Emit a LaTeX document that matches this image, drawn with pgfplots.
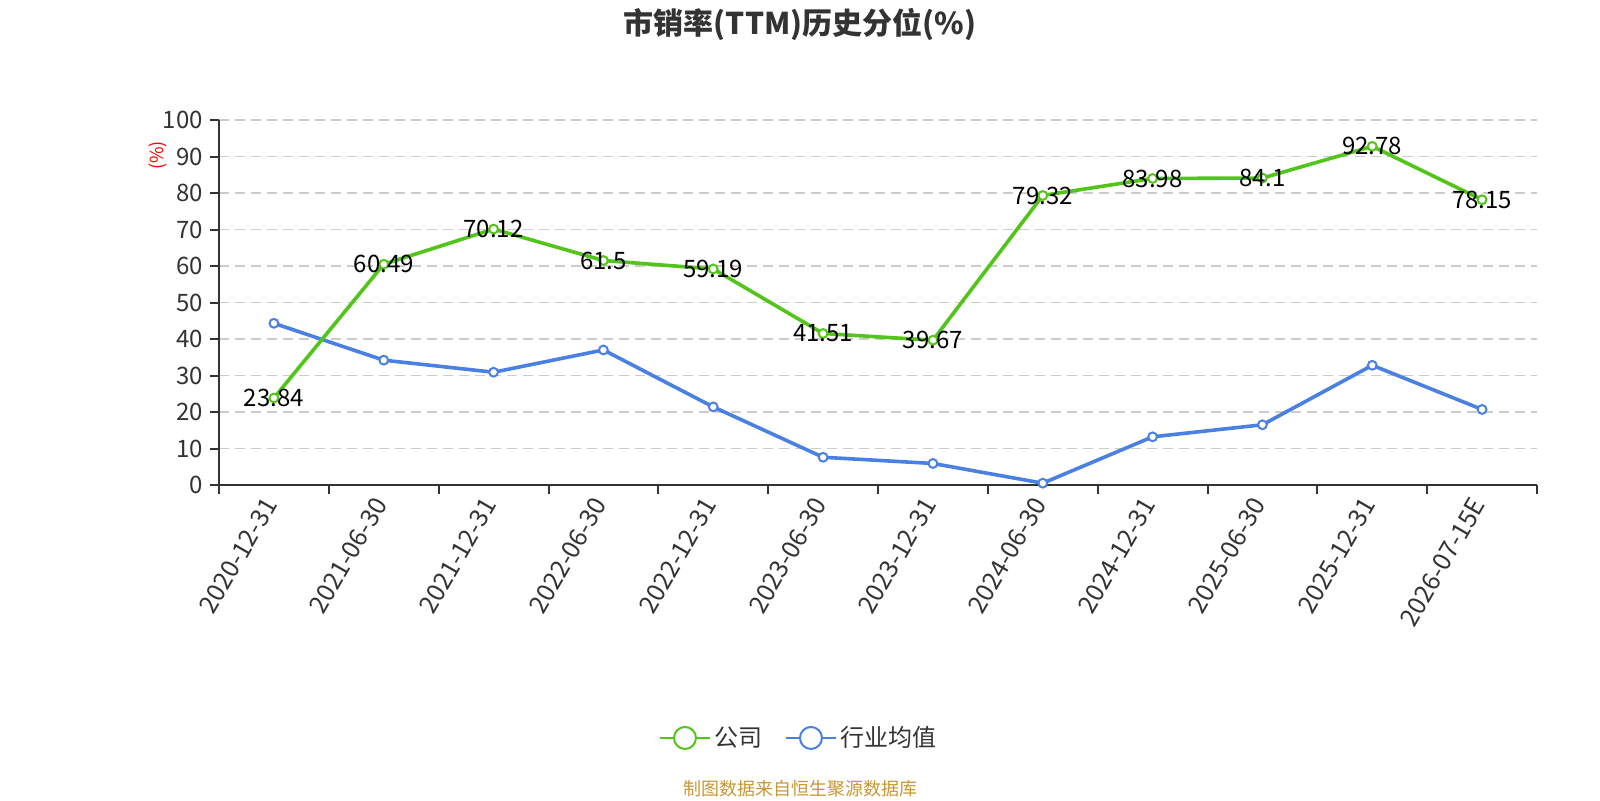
\documentclass[border=0pt]{standalone}
\usepackage{pgfplots}
\pgfplotsset{compat=1.18}
\usepackage{fontspec}
\setmainfont{Noto Sans CJK SC}
\definecolor{cgreen}{RGB}{82,196,26}
\definecolor{cblue}{RGB}{74,128,226}
\definecolor{ctext}{RGB}{51,51,51}
\definecolor{cgrid}{RGB}{204,204,204}
\definecolor{csrc}{RGB}{200,150,50}
\begin{document}
\begin{tikzpicture}
\node[font=\bfseries\fontsize{15}{18}\selectfont, text=ctext] at (400pt,388pt) {市销率(TTM)历史分位(\%)};
\node[font=\fontsize{9}{10}\selectfont, text=red, rotate=90] at (78.75pt,322.25pt) {(\%)};
\node[font=\fontsize{9}{10}\selectfont, text=csrc] at (400pt,5.5pt) {制图数据来自恒生聚源数据库};
\begin{axis}[
  at={(109.5pt,157.5pt)}, anchor=south west,
  scale only axis, width=659pt, height=182.5pt,
  xmin=-0.5, xmax=11.5, ymin=0, ymax=100,
  axis lines*=left,
  axis line style={color=ctext, line width=1pt},
  tick style={color=ctext, line width=1pt},
  tick align=outside, major tick length=4.5pt,
  xtick={-0.5,0.5,...,11.5},
  x tick label as interval,
  xticklabels={2020-12-31,2021-06-30,2021-12-31,2022-06-30,2022-12-31,2023-06-30,2023-12-31,2024-06-30,2024-12-31,2025-06-30,2025-12-31,2026-07-15E},
  xticklabel style={rotate=60, anchor=east, font=\fontsize{12.5}{14}\selectfont, text=ctext},
  ytick={0,10,...,100},
  yticklabel style={font=\fontsize{12}{14}\selectfont, text=ctext},
  /pgf/number format/assume math mode=true,
  ymajorgrids,
  major grid style={color=cgrid, line width=0.6pt, dash pattern=on 5pt off 3pt},
  legend style={at={(0.4408,-0.693)}, anchor=center, draw=none, fill=none,
    legend columns=2, font=\fontsize{12}{14}\selectfont, text=ctext,
    /tikz/every even column/.append style={column sep=9pt}},
  legend image code/.code={
    \draw[#1, mark=none, line width=1pt] (0pt,0pt) -- (25pt,0pt);
    \draw[#1, mark=none, line width=1pt, fill=white] (12.5pt,0pt) circle (5.5pt);
  },
]
\addplot[color=cblue, line width=1.8pt, mark=*, mark size=2.2pt,
  mark options={fill=white, draw=cblue, line width=1pt}, forget plot]
coordinates {(0,44.3) (1,34.2) (2,30.9) (3,37.0) (4,21.4) (5,7.6) (6,5.9) (7,0.5) (8,13.2) (9,16.5) (10,32.8) (11,20.7)};
\addplot[color=cgreen, line width=1.8pt, mark=*, mark size=2.2pt,
  mark options={fill=white, draw=cgreen, line width=1pt},
  point meta=explicit symbolic, nodes near coords,
  every node near coord/.append style={anchor=center, font=\fontsize{12}{14}\selectfont, text=black}]
coordinates {(0,23.84) [23.84] (1,60.49) [60.49] (2,70.12) [70.12] (3,61.5) [61.5] (4,59.19) [59.19] (5,41.51) [41.51] (6,39.67) [39.67] (7,79.32) [79.32] (8,83.98) [83.98] (9,84.1) [84.1] (10,92.78) [92.78] (11,78.15) [78.15]};
\addlegendentry{公司}
\addlegendimage{color=cblue, line width=1.8pt}
\addlegendentry{行业均值}
\end{axis}
\pgfresetboundingbox
\useasboundingbox (0,0) rectangle (800pt,400pt);
\end{tikzpicture}
\end{document}
